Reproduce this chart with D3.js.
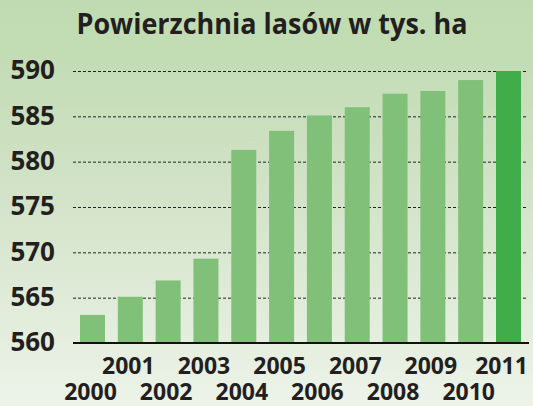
<!DOCTYPE html>
<html lang="pl">
<head>
    <meta charset="UTF-8">
    <title>Powierzchnia lasów w tys. ha</title>
    <script src="https://d3js.org/d3.v7.min.js"></script>
    <style>
        html, body { margin: 0; padding: 0; }
        svg { display: block; }
        text { font-family: "Open Sans", "DejaVu Sans", sans-serif; font-weight: bold; fill: #231f20; }
    </style>
</head>
<body>
    <svg id="chart"></svg>
    <script>
        // data (tys. ha)
        var years = ["2000", "2001", "2002", "2003", "2004", "2005", "2006", "2007", "2008", "2009", "2010", "2011"];
        var values = [563.1, 565.1, 566.9, 569.3, 581.3, 583.4, 585.1, 586.0, 587.5, 587.8, 589.0, 590.0];
        var yTicks = [560, 565, 570, 575, 580, 585, 590];
        var title = "Powierzchnia lasów w tys. ha";

        var W = 533, H = 406;
        // plot area (note: "top" is reserved on window, so use own names)
        var plotL = 73, plotR = 528, plotT = 71, plotB = 343;

        var svg = d3.select("#chart")
            .attr("width", W)
            .attr("height", H);

        // background gradient
        var grad = svg.append("defs").append("linearGradient")
            .attr("id", "bg")
            .attr("x1", 0).attr("y1", 0).attr("x2", 0).attr("y2", 1);
        grad.append("stop").attr("offset", "0%").attr("stop-color", "#c0dbb2");
        grad.append("stop").attr("offset", "12%").attr("stop-color", "#c2dcb4");
        grad.append("stop").attr("offset", "45%").attr("stop-color", "#d1e2c6");
        grad.append("stop").attr("offset", "100%").attr("stop-color", "#edf3e9");

        svg.append("rect")
            .attr("width", W).attr("height", H)
            .attr("fill", "url(#bg)");

        // scales
        var x = d3.scaleBand()
            .domain(years)
            .range([plotL, plotR])
            .paddingInner(0.339)
            .paddingOuter(0.185);

        var y = d3.scaleLinear()
            .domain([560, 590])
            .range([plotB, plotT]);

        // dotted gridlines
        var grid = svg.append("g")
            .attr("transform", "translate(" + plotL + ",0)")
            .call(d3.axisRight(y).tickValues(yTicks.slice(1)).tickSize(plotR - plotL).tickFormat(""));
        grid.select(".domain").remove();
        grid.selectAll("line")
            .attr("stroke", "#222")
            .attr("stroke-width", 1)
            .attr("stroke-dasharray", "3,2");

        // bars
        svg.selectAll("rect.bar")
            .data(values)
            .enter().append("rect")
            .attr("class", "bar")
            .attr("x", (d, i) => x(years[i]))
            .attr("width", x.bandwidth())
            .attr("y", d => y(d))
            .attr("height", d => y(560) - y(d))
            .attr("fill", (d, i) => i === values.length - 1 ? "#40ad4a" : "#81c078");

        // baseline
        svg.append("line")
            .attr("x1", plotL).attr("x2", plotR + 1)
            .attr("y1", y(560)).attr("y2", y(560))
            .attr("stroke", "#111")
            .attr("stroke-width", 2);

        // y axis labels
        var yAxis = svg.append("g")
            .attr("transform", "translate(" + plotL + ",0)")
            .call(d3.axisLeft(y).tickValues(yTicks).tickSize(0).tickPadding(18));
        yAxis.select(".domain").remove();
        yAxis.selectAll("text")
            .attr("font-size", 26)
            .attr("font-family", null)
            .attr("fill", null)
            .attr("dy", "0.3em");

        // x axis labels, staggered in two rows
        var xAxis = svg.append("g")
            .attr("transform", "translate(0," + plotB + ")")
            .call(d3.axisBottom(x).tickSize(0));
        xAxis.select(".domain").remove();
        xAxis.selectAll("text")
            .attr("font-size", 23)
            .attr("font-family", null)
            .attr("fill", null)
            .attr("dy", 0)
            .attr("dx", (d, i) => i === years.length - 1 ? -7 : -2)
            .attr("y", (d, i) => i % 2 === 1 ? 31 : 57);

        // title
        svg.append("text")
            .attr("x", 272)
            .attr("y", 34)
            .attr("text-anchor", "middle")
            .attr("font-size", 29)
            .attr("textLength", 391)
            .attr("lengthAdjust", "spacingAndGlyphs")
            .text(title);
    </script>
</body>
</html>
